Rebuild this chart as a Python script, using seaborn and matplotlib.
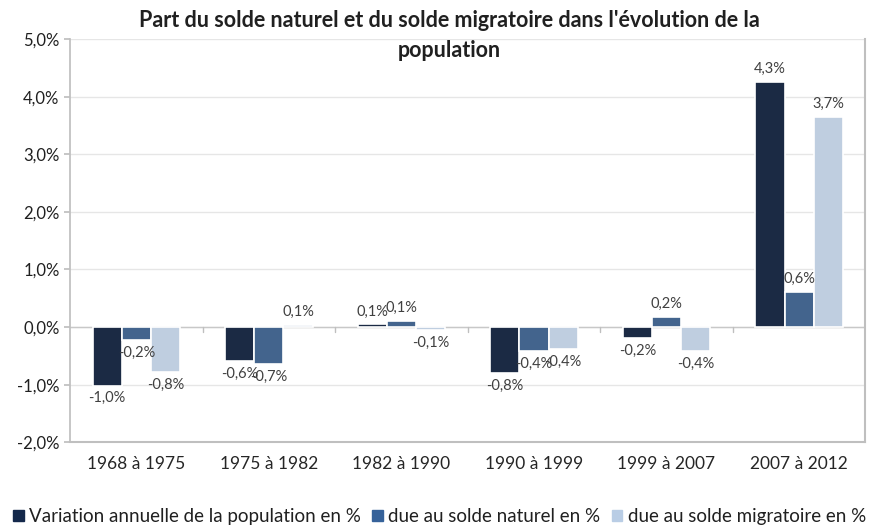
import matplotlib.pyplot as plt
import seaborn as sns
import pandas as pd
import numpy as np
from matplotlib.ticker import FuncFormatter

# Data
periodes = ["1968 à 1975", "1975 à 1982", "1982 à 1990",
            "1990 à 1999", "1999 à 2007", "2007 à 2012"]
series = ["Variation annuelle de la population en %",
          "due au solde naturel en %",
          "due au solde migratoire en %"]
variation = [-1.02, -0.59, 0.05, -0.80, -0.19, 4.26]
naturel = [-0.23, -0.64, 0.11, -0.42, 0.18, 0.61]
migratoire = [-0.78, 0.04, -0.05, -0.38, -0.42, 3.65]
# values shown in the data labels
lbl_variation = ["-1,0%", "-0,6%", "0,1%", "-0,8%", "-0,2%", "4,3%"]
lbl_naturel = ["-0,2%", "-0,7%", "0,1%", "-0,4%", "0,2%", "0,6%"]
lbl_migratoire = ["-0,8%", "0,1%", "-0,1%", "-0,4%", "-0,4%", "3,7%"]
couleurs = ["#14284B", "#36629A", "#B9CDE5"]

df = pd.DataFrame({
    "periode": periodes * 3,
    "serie": [series[0]] * 6 + [series[1]] * 6 + [series[2]] * 6,
    "valeur": variation + naturel + migratoire,
})

sns.set_theme(style="white")
plt.rcParams['font.family'] = ['Lato', 'DejaVu Sans']

fig = plt.figure(figsize=(8.75, 5.29), dpi=100)
ax = fig.add_axes([0.08, 0.164, 0.909, 0.762])

sns.barplot(data=df, x="periode", y="valeur", hue="serie", order=periodes,
            hue_order=series, palette=couleurs, width=0.66, ax=ax,
            edgecolor="white", linewidth=1.2, legend=False, zorder=3)

for cont, lbls in zip(ax.containers, [lbl_variation, lbl_naturel, lbl_migratoire]):
    ax.bar_label(cont, labels=lbls, padding=4, fontsize=10.5, color="#404040")

ax.set_ylim(-2.0, 5.0)
ax.set_yticks(np.arange(-2, 5.1, 1))
ax.yaxis.set_major_formatter(FuncFormatter(lambda v, p: f"{v:.1f}%".replace(".", ",")))
ax.grid(axis="y", color="#E6E6E6", linewidth=1, zorder=0)
ax.axhline(0, color="#C8C8C8", linewidth=1, zorder=2)
ax.set_xlim(-0.5, 5.5)
ax.set_xlabel("")
ax.set_ylabel("")
ax.tick_params(axis="x", labelsize=12.5, pad=10, length=0)
ax.tick_params(axis="y", labelsize=12, colors="#202020", length=4, color="#BFBFBF")
ax.spines["top"].set_visible(False)
for s in ["left", "bottom", "right"]:
    ax.spines[s].set_color("#BFBFBF")
ax.spines["bottom"].set_linewidth(1.5)
ax.spines["right"].set_linewidth(1.5)
ax.tick_params(axis="y", left=True)

# small ticks on zero line between categories
for xb in np.arange(0.5, 5.5, 1):
    ax.plot([xb, xb], [0, -0.08], color="#BFBFBF", linewidth=1, zorder=2)

fig.text(0.514, 0.982, "Part du solde naturel et du solde migratoire dans l'évolution de la\npopulation",
         ha="center", va="top", fontsize=15.5, fontweight="bold", color="#202020",
         linespacing=1.55)

handles = [plt.Rectangle((0, 0), 1, 1, color=c) for c in couleurs]
fig.legend(handles, series, loc="lower left", bbox_to_anchor=(-0.004, -0.025), ncol=3,
           frameon=False, fontsize=13.5, handlelength=0.55, handleheight=0.55,
           handletextpad=0.3, columnspacing=0.6, labelcolor="#202020")

fig.savefig("out.png", dpi=100)
